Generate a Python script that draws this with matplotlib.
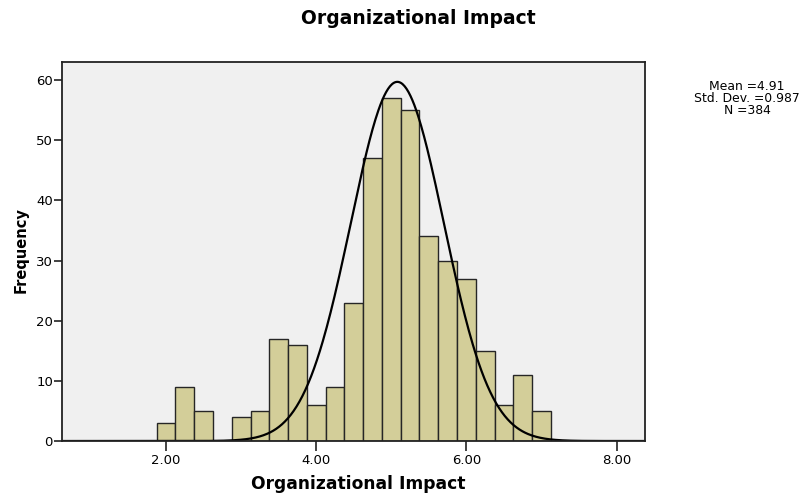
import numpy as np
import matplotlib
matplotlib.use("Agg")
import matplotlib.pyplot as plt

# ---- data ----
bin_start = 1.875
bin_width = 0.25
counts = [3, 9, 5, 0, 4, 5, 17, 16, 6, 9, 23, 47, 57, 55, 34, 30, 27, 15, 6, 11, 5]
x_ticks = [2.0, 4.0, 6.0, 8.0]
x_tick_labels = ["2.00", "4.00", "6.00", "8.00"]
y_ticks = [0, 10, 20, 30, 40, 50, 60]
# fitted curve as drawn in the reference
curve_center = 5.08
curve_sd = 0.62
curve_peak = 59.7
stats_lines = ["Mean =4.91", "Std. Dev. =0.987", "N =384"]
title = "Organizational Impact"
x_label = "Organizational Impact"
y_label = "Frequency"

plt.rcParams['font.family'] = ['DejaVu Sans']

fig = plt.figure(figsize=(8.06, 4.96), dpi=100)
ax = fig.add_axes([62/806, 55/496, (645-62)/806, (441-62)/496])
ax.set_facecolor("#F0F0F0")

edges = bin_start + bin_width * np.arange(len(counts) + 1)
ax.bar(edges[:-1], counts, width=bin_width, align='edge',
       color="#D3CE99", edgecolor="#262626", linewidth=1.0)

xlim = (0.615, 8.378)
xs = np.linspace(xlim[0], xlim[1], 600)
ys = curve_peak * np.exp(-0.5 * ((xs - curve_center) / curve_sd) ** 2)
ax.plot(xs, ys, color="black", linewidth=1.6)

ax.set_xlim(*xlim)
ax.set_ylim(0, 63)
ax.set_xticks(x_ticks)
ax.set_xticklabels(x_tick_labels)
ax.set_yticks(y_ticks)
ax.tick_params(axis='x', length=7, width=1.2, pad=2, labelsize=9.5, color="#222222")
ax.tick_params(axis='y', length=5.5, width=1.2, pad=1, labelsize=9.5, color="#222222")
for s in ax.spines.values():
    s.set_linewidth(1.3)
    s.set_color("#222222")

fig.text(418/806, 1 - 18/496, title, ha='center', va='center',
         fontsize=13.5, fontweight='bold')
fig.text(358/806, 1 - 484/496, x_label, ha='center', va='center',
         fontsize=12.3, fontweight='bold')
fig.text(21/806, 1 - 250/496, y_label, ha='center', va='center',
         rotation=90, fontsize=10.5, fontweight='bold')
fig.text(747/806, 1 - 80/496, "\n".join(stats_lines), ha='center', va='top',
         fontsize=8.9, linespacing=0.92, multialignment='center')

fig.savefig("out.png", dpi=100, facecolor="white")
